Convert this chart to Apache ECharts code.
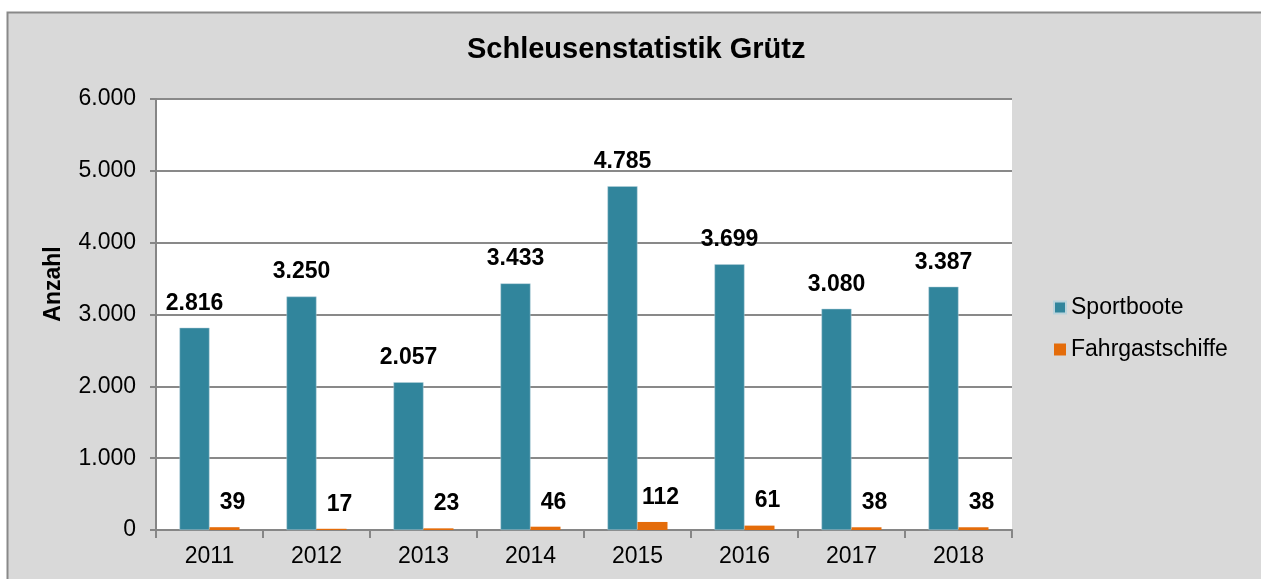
<!DOCTYPE html>
<html>
<head>
<meta charset="utf-8">
<script src="https://cdn.jsdelivr.net/npm/echarts@6/dist/echarts.min.js"></script>
<style>
html,body{margin:0;padding:0;background:#fff;}
#chart{width:1261px;height:579px;}
</style>
</head>
<body>
<div id="chart"></div>
<script>
const categories = ['2011','2012','2013','2014','2015','2016','2017','2018'];
const sportboote = [2816, 3250, 2057, 3433, 4785, 3699, 3080, 3387];
const fahrgastschiffe = [39, 17, 23, 46, 112, 61, 38, 38];
const yTicks = [0, 1000, 2000, 3000, 4000, 5000, 6000];

function fmt(v){
  return String(Math.round(v)).replace(/\B(?=(\d{3})+(?!\d))/g, '.');
}

const chart = echarts.init(document.getElementById('chart'));
const font = '"Liberation Sans", Arial, sans-serif';
chart.setOption({
  backgroundColor: '#ffffff',
  animation: false,
  graphic: [{
    type: 'rect',
    z: -10,
    shape: {x: 7.5, y: 12.5, width: 1300, height: 620},
    style: {fill: '#d9d9d9', stroke: '#898989', lineWidth: 2}
  }, {
    type: 'text',
    x: 54, y: 284,
    rotation: Math.PI / 2,
    style: {
      text: 'Anzahl',
      fontFamily: font, fontSize: 23, fontWeight: 'bold', fill: '#000',
      align: 'center', verticalAlign: 'middle'
    }
  }],
  title: {
    text: 'Schleusenstatistik Grütz',
    left: 462, top: 30,
    textStyle: {fontFamily: font, fontSize: 29, fontWeight: 'bold', color: '#000'}
  },
  legend: {
    orient: 'vertical',
    left: 1053, top: 296,
    padding: 0,
    itemWidth: 12, itemHeight: 12, itemGap: 19,
    icon: 'rect',
    textStyle: {fontFamily: font, fontSize: 23, color: '#000'},
    data: ['Sportboote', 'Fahrgastschiffe']
  },
  grid: {
    left: 156, right: 1261 - 1012, top: 99, bottom: 579 - 530,
    show: true, backgroundColor: '#ffffff', borderWidth: 0,
    containLabel: false
  },
  xAxis: {
    type: 'category',
    data: categories,
    axisLine: {lineStyle: {color: '#868686', width: 2}},
    axisTick: {show: true, length: 8, lineStyle: {color: '#868686', width: 2}, alignWithLabel: false},
    axisLabel: {fontFamily: font, fontSize: 23, color: '#000', margin: 15}
  },
  yAxis: {
    type: 'value',
    min: 0, max: 6000, interval: 1000,
    axisLine: {show: true, lineStyle: {color: '#868686', width: 2}},
    axisTick: {show: true, length: 6, inside: false, lineStyle: {color: '#868686', width: 2}},
    splitLine: {lineStyle: {color: '#898989', width: 2}},
    axisLabel: {fontFamily: font, fontSize: 23, color: '#000', margin: 20,
      formatter: function(v){ return fmt(v); }}
  },
  series: [{
    name: 'Sportboote',
    type: 'bar',
    data: sportboote,
    barWidth: 30,
    barGap: '0%',
    itemStyle: {color: '#31859c', borderColor: '#b9d3dc', borderWidth: 0.5},
    label: {show: true, position: 'top', distance: 13, offset: [0, 0],
      fontFamily: font, fontSize: 23, fontWeight: 'bold', color: '#000',
      formatter: function(p){ return fmt(p.value); }}
  }, {
    name: 'Fahrgastschiffe',
    type: 'bar',
    data: fahrgastschiffe,
    barWidth: 30,
    barGap: '0%',
    itemStyle: {color: '#e46c0a'},
    label: {show: true, position: 'top', distance: 13, offset: [8, 0],
      fontFamily: font, fontSize: 23, fontWeight: 'bold', color: '#000',
      formatter: function(p){ return fmt(p.value); }}
  }]
});
</script>
</body>
</html>
